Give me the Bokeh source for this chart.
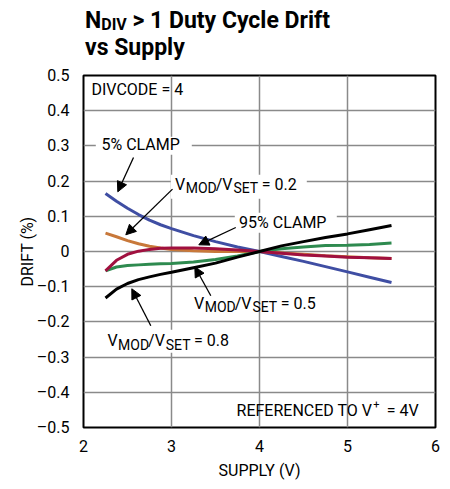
from bokeh.plotting import figure
from bokeh.models import (Range1d, FixedTicker, CustomJSTickFormatter, Label,
                          Arrow, NormalHead, BoxAnnotation, ColumnDataSource, Div)
from bokeh.layouts import column
from bokeh.embed import file_html
from bokeh.resources import INLINE

# ---------------- data ----------------
supply = [2.25, 2.375, 2.5, 2.625, 2.75, 2.875, 3.0, 3.25, 3.5, 3.75, 4.0,
          4.25, 4.5, 4.75, 5.0, 5.25, 5.5]
clamp5 = [0.165, 0.143, 0.123, 0.105, 0.089, 0.076, 0.065, 0.045, 0.028, 0.013, 0.0,
          -0.014, -0.028, -0.043, -0.058, -0.073, -0.088]
ratio02 = [0.052, 0.042, 0.031, 0.022, 0.015, 0.010, 0.006, 0.002, 0.0, 0.0, 0.0,
           -0.004, -0.008, -0.012, -0.015, -0.018, -0.020]
ratio05 = [-0.055, -0.044, -0.040, -0.038, -0.036, -0.035, -0.034, -0.030, -0.023, -0.013, 0.0,
           0.008, 0.013, 0.017, 0.018, 0.020, 0.024]
clamp95 = [-0.055, -0.025, -0.008, 0.001, 0.006, 0.009, 0.010, 0.010, 0.008, 0.004, 0.0,
           -0.005, -0.010, -0.013, -0.016, -0.018, -0.020]
ratio08 = [-0.132, -0.107, -0.091, -0.080, -0.072, -0.065, -0.059, -0.046, -0.033, -0.016, 0.0,
           0.016, 0.028, 0.040, 0.050, 0.062, 0.074]

x_ticks = [2, 3, 4, 5, 6]
y_ticks = [-0.5, -0.4, -0.3, -0.2, -0.1, 0.0, 0.1, 0.2, 0.3, 0.4, 0.5]

FONT = "Roboto"
TITLE_H = 60

# ---------------- title (HTML, for the subscript) ----------------
title_html = (
    '<div style="position:relative;width:450px;height:%dpx;font-family:Roboto;'
    'font-weight:bold;color:#000;">'
    '<div style="position:absolute;left:85px;top:8.5px;font-size:23px;line-height:23px;'
    'white-space:nowrap;transform:scaleX(1.0);transform-origin:0 0;">'
    'N<span style="font-size:16px;line-height:10px;position:relative;top:2.5px;">DIV</span>'
    ' &gt; 1 Duty Cycle Drift</div>'
    '<div style="position:absolute;left:85px;top:39.5px;font-size:23px;line-height:16px;'
    'white-space:nowrap;transform:scaleX(1.0);transform-origin:0 0;">vs Supply</div>'
    '</div>' % TITLE_H)
title = Div(text=title_html, width=450, height=TITLE_H, margin=(0, 0, 0, 0))

p = figure(width=450, height=489 - TITLE_H, output_backend="svg", toolbar_location=None,
           x_range=Range1d(2, 6), y_range=Range1d(-0.5, 0.5),
           min_border_left=83, min_border_right=15, min_border_top=75 - TITLE_H,
           min_border_bottom=62, margin=(0, 0, 0, 0),
           background_fill_color="white", border_fill_color="white")

# frame / grid
p.outline_line_color = "black"
p.outline_line_width = 2
p.grid.grid_line_color = "#8a8a8a"
p.grid.grid_line_width = 1.5
p.xaxis.ticker = FixedTicker(ticks=x_ticks)
p.yaxis.ticker = FixedTicker(ticks=y_ticks)
p.yaxis.formatter = CustomJSTickFormatter(code="""
    if (Math.abs(tick) < 1e-9) return "0";
    return (tick < 0 ? "\u2013" : "") + Math.abs(tick).toFixed(1);
""")
for ax in (p.xaxis[0], p.yaxis[0]):
    ax.axis_line_color = None
    ax.major_tick_line_color = None
    ax.minor_tick_line_color = None
    ax.major_label_text_font = FONT
    ax.major_label_text_font_size = "16px"
    ax.major_label_text_color = "black"
    ax.axis_label_text_font = FONT
    ax.axis_label_text_font_size = "16px"
    ax.axis_label_text_font_style = "normal"
    ax.axis_label_text_color = "black"
p.xaxis.axis_label = "SUPPLY (V)"
p.yaxis.axis_label = "DRIFT (%)"
p.xaxis.major_label_standoff = 6
p.yaxis.major_label_standoff = 8
p.xaxis.axis_label_standoff = 6
p.yaxis.axis_label_standoff = -3

# ---------------- helpers for annotation placement (page px) ----------------
SHIFT = 7  # correction between intended baseline and rendered position

def sx(px):
    return 2 + (px - 82.7) / 88.0

def sy(py):
    return (250.7 - py) / 352.0

def put(text, px, py, size=16, style="normal", align="left"):
    p.add_layout(Label(x=sx(px), y=sy(py - SHIFT), text=text, text_font=FONT,
                       text_font_size=f"{size}px", text_font_style=style,
                       text_baseline="alphabetic", text_align=align,
                       text_color="black"))

def box(x0, x1, y0, y1):
    p.add_layout(BoxAnnotation(left=sx(x0), right=sx(x1), top=sy(y0), bottom=sy(y1),
                               fill_color="white", fill_alpha=1.0, line_color=None,
                               level="underlay"))

def arrow(x0, y0, x1, y1):
    p.add_layout(Arrow(end=NormalHead(size=10, fill_color="black", line_color="black", line_width=1),
                       x_start=sx(x0), y_start=sy(y0), x_end=sx(x1), y_end=sy(y1),
                       line_color="black", line_width=1.3))

def vratio(value, px, py):
    put("V", px, py)
    put("MOD", px + 10.6, py + 4, size=14)
    put("/V", px + 40.6, py)
    put("SET", px + 58.3, py + 4, size=14)
    put("= " + value, px + 86.6, py)

# white boxes behind labels that sit on grid lines
box(95, 191, 136, 154)
box(170, 306, 174, 198)
box(234, 336, 212, 232)
box(103, 236, 329, 352)

# ---------------- curves ----------------
src = ColumnDataSource(dict(x=supply, c5=clamp5, r02=ratio02, r05=ratio05, c95=clamp95, r08=ratio08))
p.line("x", "c5", source=src, line_color="#3f4ea3", line_width=3)
p.line("x", "r02", source=src, line_color="#c8783a", line_width=3)
p.line("x", "r05", source=src, line_color="#2e8a4f", line_width=3)
p.line("x", "c95", source=src, line_color="#a0103f", line_width=3)
p.line("x", "r08", source=src, line_color="black", line_width=3)

# ---------------- annotations ----------------
put("DIVCODE = 4", 90.7, 95.7)
put("5% CLAMP", 100.7, 150.7)
vratio("0.2", 174.3, 190.5)
put("95% CLAMP", 238.3, 228.3)
vratio("0.5", 193.3, 309.5)
vratio("0.8", 106.7, 346.7)
put("REFERENCED TO V", 371.5, 416.7, align="right")
put("+", 372.5, 410, size=11)
put("= 4V", 386, 416.7)

arrow(132.7, 156.7, 117, 191)
arrow(171.7, 188.3, 125, 234)
arrow(235, 226.7, 198, 244)
arrow(210, 295, 194, 266)
arrow(150, 325, 131, 288)

layout = column(title, p, spacing=0, margin=(0, 0, 0, 0))
open("out.html", "w").write(file_html(layout, INLINE))
